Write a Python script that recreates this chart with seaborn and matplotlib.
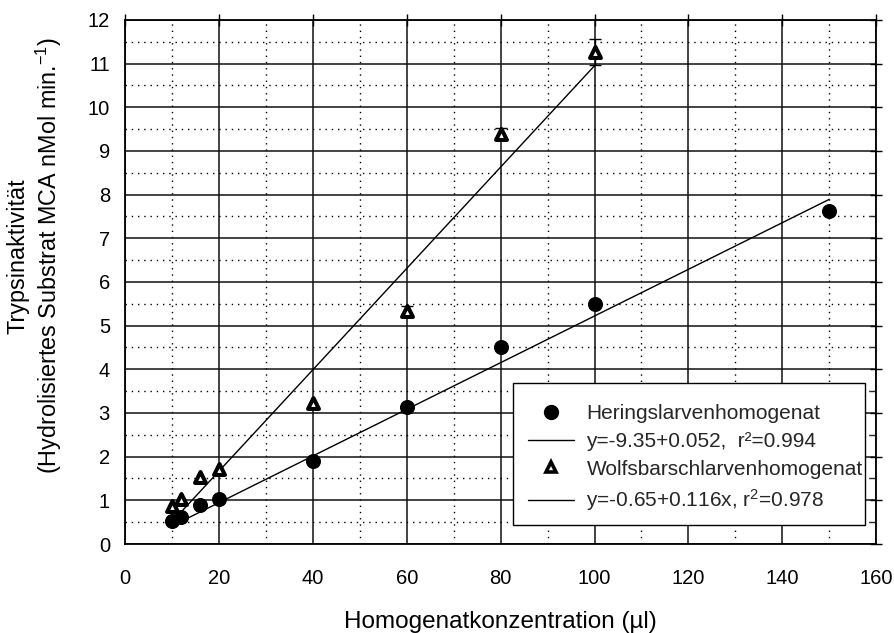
import numpy as np
import pandas as pd
import matplotlib
matplotlib.use("Agg")
import matplotlib.pyplot as plt
from matplotlib.lines import Line2D
from matplotlib.patches import Rectangle
from matplotlib.ticker import MultipleLocator
import seaborn as sns

# ---- data ----
hering_x = [10, 12, 16, 20, 40, 60, 80, 100, 150]
hering_y = [0.52, 0.62, 0.89, 1.02, 1.89, 3.14, 4.50, 5.50, 7.62]

wolf_x = [10, 12, 16, 20, 40, 60, 80, 100]
wolf_y = [0.87, 1.04, 1.53, 1.71, 3.22, 5.33, 9.39, 11.27]
wolf_err = [0.0, 0.0, 0.0, 0.0, 0.0, 0.11, 0.14, 0.30]

# fitted regression lines (intercept, slope, x-range)
hering_fit = (-0.12, 0.0534)
hering_fit_range = [10, 150]
wolf_fit = (-0.65, 0.116)
wolf_fit_range = [10, 100]

labels = ["Heringslarvenhomogenat",
          "y=-9.35+0.052,  r\u00b2=0.994",
          "Wolfsbarschlarvenhomogenat",
          "y=-0.65+0.116x, r$^2$=0.978"]

x_ticks = [0, 20, 40, 60, 80, 100, 120, 140, 160]
y_ticks = list(range(0, 13))

sns.set_theme(style="white")
plt.rcParams["font.family"] = ["Liberation Sans", "DejaVu Sans"]
plt.rcParams["mathtext.fontset"] = "custom"
plt.rcParams["mathtext.rm"] = "Liberation Sans"
plt.rcParams["mathtext.it"] = "Liberation Sans"

fig = plt.figure(figsize=(8.94, 6.33), dpi=100)
ax = fig.add_axes([0.14, 0.1406, 0.84, 0.828])

ax.set_xlim(0, 160)
ax.set_ylim(0, 12)
ax.xaxis.set_major_locator(MultipleLocator(20))
ax.xaxis.set_minor_locator(MultipleLocator(10))
ax.yaxis.set_major_locator(MultipleLocator(1))
ax.yaxis.set_minor_locator(MultipleLocator(0.5))

ax.grid(True, which="major", color="#111111", linewidth=1.1, linestyle="-")
ax.grid(True, which="minor", color="black", linewidth=1.0, linestyle=(0, (1, 3.5)))
ax.set_axisbelow(True)

for s in ax.spines.values():
    s.set_color("black")
    s.set_linewidth(1.3)

ax.tick_params(axis="both", which="major", direction="inout", length=8, width=1,
               labelsize=14.5, colors="black", top=True, right=True)
ax.tick_params(axis="x", which="major", pad=14)
ax.tick_params(axis="y", which="major", pad=7)
ax.tick_params(axis="y", which="minor", direction="in", length=4, width=1, right=True)
ax.tick_params(axis="x", which="minor", length=0)
ax.set_xticks(x_ticks)
ax.set_yticks(y_ticks)

# fit lines
hx = np.array(hering_fit_range, dtype=float)
wx = np.array(wolf_fit_range, dtype=float)
df_h = pd.DataFrame({"x": hx, "y": hering_fit[0] + hering_fit[1] * hx})
df_w = pd.DataFrame({"x": wx, "y": wolf_fit[0] + wolf_fit[1] * wx})
sns.lineplot(data=df_h, x="x", y="y", ax=ax, color="black", linewidth=1.0)
sns.lineplot(data=df_w, x="x", y="y", ax=ax, color="black", linewidth=1.0)

# error bars for triangles (only where an error was drawn)
ex = [x for x, e in zip(wolf_x, wolf_err) if e > 0]
ey = [y for y, e in zip(wolf_y, wolf_err) if e > 0]
ee = [e for e in wolf_err if e > 0]
ax.errorbar(ex, ey, yerr=ee, fmt="none", ecolor="black",
            elinewidth=1.0, capsize=4.3, capthick=1.0, zorder=3)

# points
sns.scatterplot(x=hering_x, y=hering_y, ax=ax, marker="o", s=100,
                color="black", edgecolor="black", zorder=4)
sns.scatterplot(x=wolf_x, y=wolf_y, ax=ax, marker="^", s=62,
                color="white", edgecolor="black", linewidth=2.9, zorder=4)

ax.set_xlabel("Homogenatkonzentration (\u00b5l)", fontsize=17.5, color="black")
ax.xaxis.set_label_coords(0.5, -0.128)
ax.set_ylabel("Trypsinaktivit\u00e4t\n(Hydrolisiertes Substrat MCA nMol min.$^{-1}$)",
              fontsize=16.8, color="black", linespacing=1.15)
ax.yaxis.set_label_coords(-0.082, 0.55)

# legend frame
ax.add_patch(Rectangle((0.5166, 0.0363), 0.9854 - 0.5166, 0.3073 - 0.0363,
                       transform=ax.transAxes, facecolor="white",
                       edgecolor="black", linewidth=1.0, zorder=5))

handles = [
    Line2D([], [], marker="o", linestyle="none", color="black", markersize=10),
    Line2D([], [], color="black", linewidth=1.0),
    Line2D([], [], marker="^", linestyle="none", markerfacecolor="white",
           markeredgecolor="black", markeredgewidth=2.6, markersize=7.5),
    Line2D([], [], color="black", linewidth=1.0),
]
leg = ax.legend(handles, labels, loc="upper left", bbox_to_anchor=(0.5366, 0.267),
                fontsize=15, frameon=False, handlelength=2.2, handletextpad=0.6,
                borderpad=0, labelspacing=0.42, borderaxespad=0)
leg.set_zorder(6)

fig.savefig("out.png", dpi=100)
